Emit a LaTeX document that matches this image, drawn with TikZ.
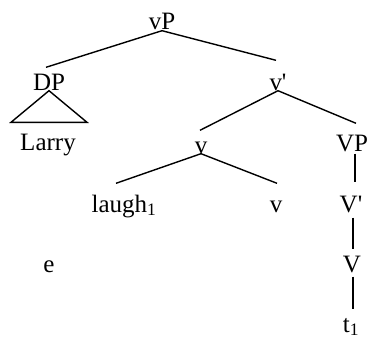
\documentclass[tikz,border=0pt]{standalone}
\usepackage{fontspec}
\setmainfont{Liberation Serif}
\usepackage{tikz}

\begin{document}
\begin{tikzpicture}[x=1pt,y=-1pt,line width=1.4pt,
  lbl/.style={anchor=base,inner sep=0pt,text height=17pt,text depth=0pt,font=\fontsize{25}{30}\selectfont}]
\path[use as bounding box] (0,0) rectangle (367,340);
\node[lbl] (vP) at (162,30) {vP};
\node[lbl] (DP) at (49,90) {DP};
\node[lbl] (vbar) at (278,90) {v\textquotesingle};
\node[lbl] (Larry) at (48,150) {Larry};
\node[lbl] (v) at (201,153) {v};
\node[lbl] (VP) at (352,151) {VP};
\node[lbl] (laugh) at (124,212) {laugh\textsubscript{1}};
\node[lbl] (vhead) at (276,212) {v};
\node[lbl] (Vbar) at (351,212) {V\textquotesingle};
\node[lbl] (V) at (352,272) {V};
\node[lbl] (e) at (49,272) {e};
\node[lbl] (t) at (351,332) {t\textsubscript{1}};
\draw (vP.south) -- ([shift={(-3,-5)}]DP.north);
\draw (vP.south) -- ([shift={(-2,-12)}]vbar.north);
\draw (DP.south) -- ([shift={(-37,-10)}]Larry.north) -- ([shift={(39,-10)}]Larry.north) -- cycle;
\draw (vbar.south) -- ([shift={(-1,-5)}]v.north);
\draw (vbar.south) -- ([shift={(4,-10)}]VP.north);
\draw (v.south) -- ([shift={(-8,-11)}]laugh.north);
\draw (v.south) -- ([shift={(1,-11)}]vhead.north);
\draw ([shift={(3,2)}]VP.south) -- ([shift={(4,-12)}]Vbar.north);
\draw ([shift={(2,5)}]Vbar.south) -- ([shift={(1,-5)}]V.north);
\draw ([shift={(1,4)}]V.south) -- ([shift={(2,-5)}]t.north);
\end{tikzpicture}
\end{document}
